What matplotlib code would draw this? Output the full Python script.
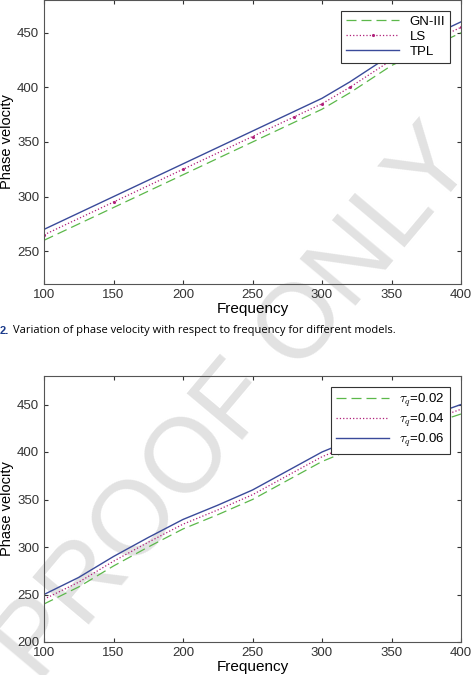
import matplotlib
matplotlib.use("Agg")
import matplotlib.pyplot as plt

plt.rcParams['font.family'] = ['Liberation Sans', 'DejaVu Sans']
plt.rcParams['mathtext.fontset'] = 'cm'

# top panel: models
freq1 = [100, 150, 200, 250, 280, 300, 320, 350, 400]
tpl = [270, 300, 330, 360, 378, 390, 405, 430, 460]
ls = [265, 295, 325, 355, 373, 385, 400, 425, 455]
gn3 = [260, 290, 320, 350, 368, 380, 395, 420, 450]

# bottom panel: tau_q
freq2 = [100, 125, 150, 175, 200, 225, 250, 275, 300, 325, 350, 375, 400]
tq06 = [250, 268, 290, 310, 329, 344, 360, 380, 400, 415, 425, 437, 450]
tq04 = [245, 263, 285, 305, 324, 339, 355, 375, 395, 410, 420, 432, 445]
tq02 = [240, 258, 280, 300, 319, 334, 350, 370, 390, 405, 415, 428, 440]

c_green = '#5cb84a'
c_pink = '#b0207a'
c_blue = '#3a4a9a'
spine = '#555555'

fig = plt.figure(figsize=(4.74, 6.75), dpi=100)
ax1 = fig.add_axes([44/474, 1-284/675, 417/474, 284/675])
ax2 = fig.add_axes([44/474, 1-642/675, 417/474, 266/675])

ax1.plot(freq1, gn3, color=c_green, lw=0.9, dashes=(8, 4), label='GN-III')
ax1.plot(freq1, ls, color=c_pink, lw=0.9, linestyle=':', marker='.', markersize=2.5,
         label='LS')
ax1.plot(freq1, tpl, color=c_blue, lw=1.0, label='TPL')
ax1.set_ylim(220, 480)
ax1.set_yticks([250, 300, 350, 400, 450])

ax2.plot(freq2, tq02, color=c_green, lw=0.9, dashes=(8, 4), label=r'$\tau_q$=0.02')
ax2.plot(freq2, tq04, color=c_pink, lw=0.9, linestyle=':', label=r'$\tau_q$=0.04')
ax2.plot(freq2, tq06, color=c_blue, lw=1.0, label=r'$\tau_q$=0.06')
ax2.set_ylim(200, 480)
ax2.set_yticks([200, 250, 300, 350, 400, 450])

for ax in (ax1, ax2):
    ax.patch.set_alpha(0)
    ax.set_xlim(100, 400)
    ax.set_xticks([100, 150, 200, 250, 300, 350, 400])
    ax.set_xlabel('Frequency', fontsize=11, labelpad=1)
    ax.set_ylabel('Phase velocity', fontsize=10.5, labelpad=2)
    ax.tick_params(direction='in', top=True, right=True, labelsize=9.5,
                   colors='#333333', length=3)
    for s in ax.spines.values():
        s.set_color(spine)
        s.set_linewidth(0.8)
    leg = ax.legend(loc='upper right', fontsize=9.5, fancybox=False, framealpha=1,
                    handlelength=4, borderaxespad=0.8, labelspacing=0.2)
    leg.get_frame().set_edgecolor('#333333')
    leg.get_frame().set_linewidth(0.8)

fig.text(0.0, 1-331/675, '2.', color='#1a3a8a', fontsize=8, fontweight='bold',
         va='center', ha='left')
fig.text(0.028, 1-331/675,
         'Variation of phase velocity with respect to frequency for different models.',
         fontsize=8, va='center', ha='left', family=['Open Sans', 'DejaVu Sans'])

fig.text(0.50, 0.40, 'PROOF ONLY', fontsize=76, color='#e2e2e2',
         rotation=50, ha='center', va='center', zorder=-5)

fig.savefig('out.png', dpi=100)
